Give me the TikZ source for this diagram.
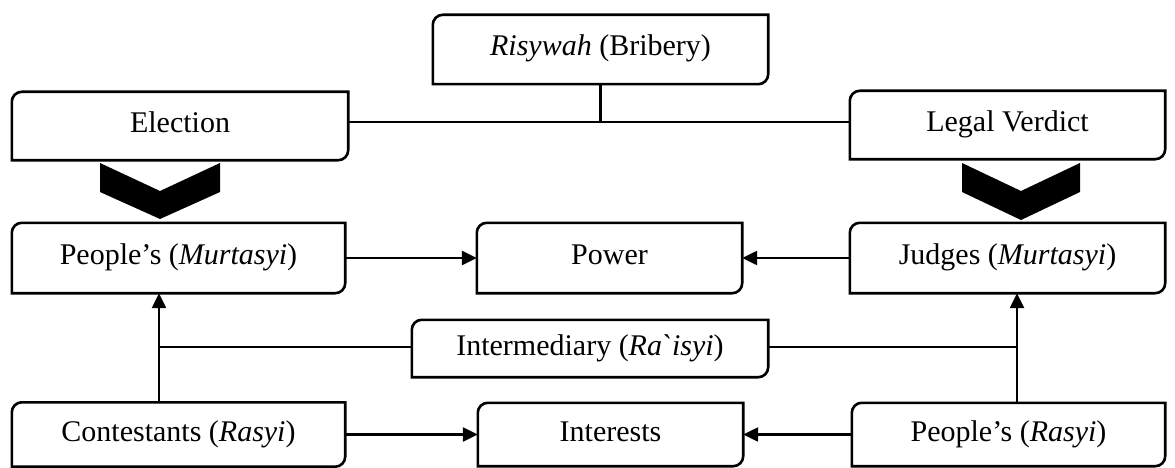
\documentclass[tikz,border=0pt]{standalone}
\usepackage{fontspec}
\setmainfont{Liberation Serif}
\usetikzlibrary{arrows.meta}
\tikzset{
  boxnode/.style={draw=none, inner sep=0pt, text height=20pt, text depth=7pt,
    font=\fontsize{30}{34}\selectfont},
  boxline/.style={line width=2.6pt, line join=miter},
  conn/.style={line width=2.4pt},
  arr/.style={conn, -{Triangle[length=15pt,width=14pt]}},
  chev/.style={fill=black, draw=none}
}
\newcommand\rbox[1]{%
  \draw[boxline] ([yshift=-10pt]#1.north west) to[out=90,in=180] ([xshift=10pt]#1.north west)
    -- (#1.north east) -- ([yshift=10pt]#1.south east) to[out=-90,in=0] ([xshift=-10pt]#1.south east)
    -- (#1.south west) -- cycle;}
\begin{document}
\begin{tikzpicture}[x=1pt,y=-1pt]
\useasboundingbox (0,0) rectangle (1175,468);
% boxes: centre, width, height
\node[boxnode, minimum width=335pt, minimum height=69pt] (ris) at (600.5,49.5) {\textit{Risywah} (Bribery)};
\node[boxnode, minimum width=336pt, minimum height=68pt] (ele) at (180,126) {Election};
\node[boxnode, minimum width=315pt, minimum height=68pt] (leg) at (1007.5,125) {Legal Verdict};
\node[boxnode, minimum width=333pt, minimum height=70pt] (pm) at (178.5,258) {People’s (\textit{Murtasyi})};
\node[boxnode, minimum width=265pt, minimum height=70pt] (pow) at (609.5,258) {Power};
\node[boxnode, minimum width=315pt, minimum height=70pt] (jud) at (1007.5,258) {Judges (\textit{Murtasyi})};
\node[boxnode, minimum width=356pt, minimum height=57pt] (int) at (590,348.5) {Intermediary (\textit{Ra\char"02CB isyi})};
\node[boxnode, minimum width=333pt, minimum height=64pt] (con) at (178.5,434.5) {Contestants (\textit{Rasyi})};
\node[boxnode, minimum width=265pt, minimum height=63pt] (inr) at (610.5,434.5) {Interests};
\node[boxnode, minimum width=313pt, minimum height=63pt] (pr) at (1008.5,434.5) {People’s (\textit{Rasyi})};
\foreach \n in {ris,ele,leg,pm,pow,jud,int,con,inr,pr}{\rbox{\n}}
% chevrons
\fill[chev] (100,163) -- (160,191) -- (220,163) -- (220,192) -- (160,219) -- (100,192) -- cycle;
\fill[chev] (962,163) -- (1021,191) -- (1080,163) -- (1080,192) -- (1021,220) -- (962,192) -- cycle;
% connectors
\coordinate (j) at (600.5,122);
\coordinate (vl) at (159,347);
\coordinate (vr) at (1017,347);
\draw[conn] (ris.south) -- (j);
\draw[conn] (ele.east |- j) -- (leg.west |- j);
\draw[arr] (pm.east) -- (pow.west);
\draw[arr] (jud.west) -- (pow.east);
\draw[arr] (con.east) -- (inr.west);
\draw[arr] (pr.west) -- (inr.east);
\draw[arr] (con.north -| vl) -- (pm.south -| vl);
\draw[arr] (pr.north -| vr) -- (jud.south -| vr);
\draw[conn] (int.west |- vl) -- (vl);
\draw[conn] (int.east |- vr) -- (vr);
\end{tikzpicture}
\end{document}
